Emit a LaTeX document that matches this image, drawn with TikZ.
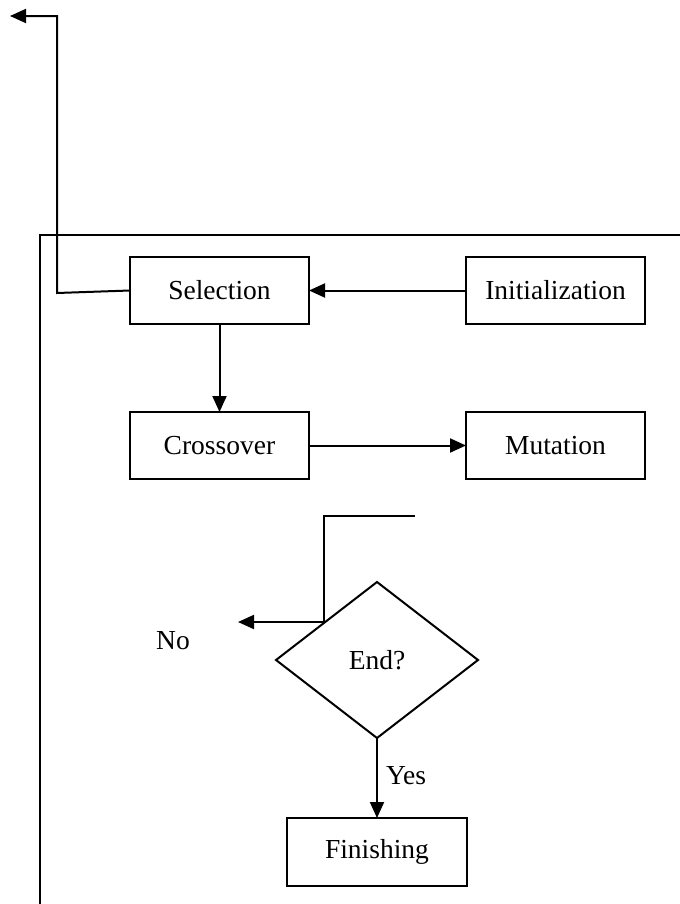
\documentclass[tikz,border=0pt]{standalone}
\usepackage{fontspec}
\setmainfont{Liberation Serif}
\usetikzlibrary{shapes.geometric,arrows.meta}
\begin{document}
\begin{tikzpicture}[x=1bp,y=-1bp,
  line width=2bp,
  every node/.style={font=\fontsize{27.5bp}{32bp}\selectfont},
  box/.style={draw,rectangle,minimum width=179bp,minimum height=67bp,inner sep=0pt,outer sep=0pt},
  decision/.style={draw,diamond,aspect=1.295,minimum width=202bp,minimum height=156bp,inner sep=0pt,outer sep=0pt},
  arr/.style={-{Triangle[length=16bp,width=14bp]}}]
\useasboundingbox (0,0) rectangle (680,904);
\node[box] (sel) at (219.5,290.5) {Selection};
\node[box] (init) at (555.5,290.5) {Initialization};
\node[box] (cross) at (219.5,445.5) {Crossover};
\node[box] (mut) at (555.5,445.5) {Mutation};
\node[decision] (end) at (377,660) {End?};
\node[box,minimum width=180bp,minimum height=68bp] (fin) at (377,852) {Finishing};
\node (no) at (173,641) {No};
\node[anchor=west,inner sep=0pt] (yes) at (385,776) {Yes};
% frame
\coordinate (frTR) at (680,235);
\coordinate (frTL) at (40,235);
\coordinate (frBL) at (40,904);
\draw (frTR) -- (frTL) -- (frBL);
% connectors
\draw[arr] (init.west) -- (sel.east);
\draw[arr] (sel.south) -- (cross.north);
\draw[arr] (cross.east) -- (mut.west);
\draw[arr] (end.south) -- (fin.north);
\coordinate (fbend) at (57,293);
\coordinate (ftop) at (57,16);
\coordinate (fend) at (10,16);
\draw[arr] (sel.west) -- (fbend) -- (ftop) -- (fend);
\coordinate (lstart) at (415,516);
\coordinate (lcorner) at (324,516);
\coordinate (ledge) at (324,622);
\coordinate (lend) at (238,622);
\draw[arr] (lstart) -- (lcorner) -- (ledge) -- (lend);
\end{tikzpicture}
\end{document}
